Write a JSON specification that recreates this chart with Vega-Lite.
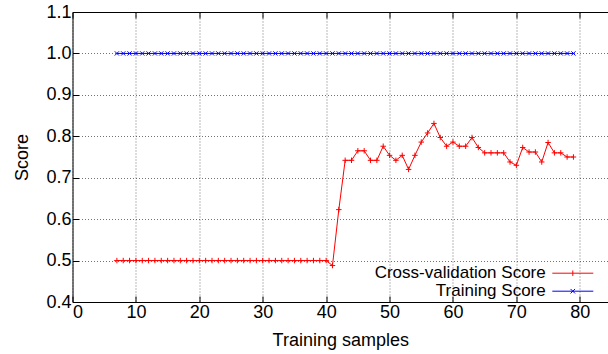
{
  "$schema": "https://vega.github.io/schema/vega-lite/v6.json",
  "width": 535.5,
  "height": 290,
  "autosize": {"type": "none"},
  "padding": {"left": 72.5, "top": 12, "right": 0, "bottom": 52},
  "config": {
    "font": "Liberation Sans",
    "view": {"stroke": null},
    "axis": {
      "labelFont": "Liberation Sans",
      "labelFontSize": 18,
      "labelColor": "#000",
      "titleFont": "Liberation Sans",
      "titleFontSize": 18,
      "titleFontWeight": "normal",
      "titleColor": "#000",
      "domainColor": "#000",
      "domainWidth": 1,
      "tickColor": "#000",
      "tickWidth": 1,
      "tickSize": -6,
      "gridColor": "#000",
      "gridDash": [1, 2],
      "gridOpacity": 0.55,
      "gridWidth": 1
    }
  },
  "datasets": {
    "scores": [
      {"n": 7, "series": "Cross-validation Score", "score": 0.5},
      {"n": 8, "series": "Cross-validation Score", "score": 0.5},
      {"n": 9, "series": "Cross-validation Score", "score": 0.5},
      {"n": 10, "series": "Cross-validation Score", "score": 0.5},
      {"n": 11, "series": "Cross-validation Score", "score": 0.5},
      {"n": 12, "series": "Cross-validation Score", "score": 0.5},
      {"n": 13, "series": "Cross-validation Score", "score": 0.5},
      {"n": 14, "series": "Cross-validation Score", "score": 0.5},
      {"n": 15, "series": "Cross-validation Score", "score": 0.5},
      {"n": 16, "series": "Cross-validation Score", "score": 0.5},
      {"n": 17, "series": "Cross-validation Score", "score": 0.5},
      {"n": 18, "series": "Cross-validation Score", "score": 0.5},
      {"n": 19, "series": "Cross-validation Score", "score": 0.5},
      {"n": 20, "series": "Cross-validation Score", "score": 0.5},
      {"n": 21, "series": "Cross-validation Score", "score": 0.5},
      {"n": 22, "series": "Cross-validation Score", "score": 0.5},
      {"n": 23, "series": "Cross-validation Score", "score": 0.5},
      {"n": 24, "series": "Cross-validation Score", "score": 0.5},
      {"n": 25, "series": "Cross-validation Score", "score": 0.5},
      {"n": 26, "series": "Cross-validation Score", "score": 0.5},
      {"n": 27, "series": "Cross-validation Score", "score": 0.5},
      {"n": 28, "series": "Cross-validation Score", "score": 0.5},
      {"n": 29, "series": "Cross-validation Score", "score": 0.5},
      {"n": 30, "series": "Cross-validation Score", "score": 0.5},
      {"n": 31, "series": "Cross-validation Score", "score": 0.5},
      {"n": 32, "series": "Cross-validation Score", "score": 0.5},
      {"n": 33, "series": "Cross-validation Score", "score": 0.5},
      {"n": 34, "series": "Cross-validation Score", "score": 0.5},
      {"n": 35, "series": "Cross-validation Score", "score": 0.5},
      {"n": 36, "series": "Cross-validation Score", "score": 0.5},
      {"n": 37, "series": "Cross-validation Score", "score": 0.5},
      {"n": 38, "series": "Cross-validation Score", "score": 0.5},
      {"n": 39, "series": "Cross-validation Score", "score": 0.5},
      {"n": 40, "series": "Cross-validation Score", "score": 0.5},
      {"n": 41, "series": "Cross-validation Score", "score": 0.488},
      {"n": 42, "series": "Cross-validation Score", "score": 0.623},
      {"n": 43, "series": "Cross-validation Score", "score": 0.742},
      {"n": 44, "series": "Cross-validation Score", "score": 0.742},
      {"n": 45, "series": "Cross-validation Score", "score": 0.765},
      {"n": 46, "series": "Cross-validation Score", "score": 0.765},
      {"n": 47, "series": "Cross-validation Score", "score": 0.742},
      {"n": 48, "series": "Cross-validation Score", "score": 0.742},
      {"n": 49, "series": "Cross-validation Score", "score": 0.776},
      {"n": 50, "series": "Cross-validation Score", "score": 0.754},
      {"n": 51, "series": "Cross-validation Score", "score": 0.742},
      {"n": 52, "series": "Cross-validation Score", "score": 0.754},
      {"n": 53, "series": "Cross-validation Score", "score": 0.72},
      {"n": 54, "series": "Cross-validation Score", "score": 0.754},
      {"n": 55, "series": "Cross-validation Score", "score": 0.786},
      {"n": 56, "series": "Cross-validation Score", "score": 0.808},
      {"n": 57, "series": "Cross-validation Score", "score": 0.831},
      {"n": 58, "series": "Cross-validation Score", "score": 0.797},
      {"n": 59, "series": "Cross-validation Score", "score": 0.776},
      {"n": 60, "series": "Cross-validation Score", "score": 0.786},
      {"n": 61, "series": "Cross-validation Score", "score": 0.776},
      {"n": 62, "series": "Cross-validation Score", "score": 0.776},
      {"n": 63, "series": "Cross-validation Score", "score": 0.797},
      {"n": 64, "series": "Cross-validation Score", "score": 0.773},
      {"n": 65, "series": "Cross-validation Score", "score": 0.76},
      {"n": 66, "series": "Cross-validation Score", "score": 0.76},
      {"n": 67, "series": "Cross-validation Score", "score": 0.76},
      {"n": 68, "series": "Cross-validation Score", "score": 0.76},
      {"n": 69, "series": "Cross-validation Score", "score": 0.738},
      {"n": 70, "series": "Cross-validation Score", "score": 0.73},
      {"n": 71, "series": "Cross-validation Score", "score": 0.773},
      {"n": 72, "series": "Cross-validation Score", "score": 0.762},
      {"n": 73, "series": "Cross-validation Score", "score": 0.762},
      {"n": 74, "series": "Cross-validation Score", "score": 0.738},
      {"n": 75, "series": "Cross-validation Score", "score": 0.785},
      {"n": 76, "series": "Cross-validation Score", "score": 0.76},
      {"n": 77, "series": "Cross-validation Score", "score": 0.76},
      {"n": 78, "series": "Cross-validation Score", "score": 0.75},
      {"n": 79, "series": "Cross-validation Score", "score": 0.75},
      {"n": 7, "series": "Training Score", "score": 1.0},
      {"n": 8, "series": "Training Score", "score": 1.0},
      {"n": 9, "series": "Training Score", "score": 1.0},
      {"n": 10, "series": "Training Score", "score": 1.0},
      {"n": 11, "series": "Training Score", "score": 1.0},
      {"n": 12, "series": "Training Score", "score": 1.0},
      {"n": 13, "series": "Training Score", "score": 1.0},
      {"n": 14, "series": "Training Score", "score": 1.0},
      {"n": 15, "series": "Training Score", "score": 1.0},
      {"n": 16, "series": "Training Score", "score": 1.0},
      {"n": 17, "series": "Training Score", "score": 1.0},
      {"n": 18, "series": "Training Score", "score": 1.0},
      {"n": 19, "series": "Training Score", "score": 1.0},
      {"n": 20, "series": "Training Score", "score": 1.0},
      {"n": 21, "series": "Training Score", "score": 1.0},
      {"n": 22, "series": "Training Score", "score": 1.0},
      {"n": 23, "series": "Training Score", "score": 1.0},
      {"n": 24, "series": "Training Score", "score": 1.0},
      {"n": 25, "series": "Training Score", "score": 1.0},
      {"n": 26, "series": "Training Score", "score": 1.0},
      {"n": 27, "series": "Training Score", "score": 1.0},
      {"n": 28, "series": "Training Score", "score": 1.0},
      {"n": 29, "series": "Training Score", "score": 1.0},
      {"n": 30, "series": "Training Score", "score": 1.0},
      {"n": 31, "series": "Training Score", "score": 1.0},
      {"n": 32, "series": "Training Score", "score": 1.0},
      {"n": 33, "series": "Training Score", "score": 1.0},
      {"n": 34, "series": "Training Score", "score": 1.0},
      {"n": 35, "series": "Training Score", "score": 1.0},
      {"n": 36, "series": "Training Score", "score": 1.0},
      {"n": 37, "series": "Training Score", "score": 1.0},
      {"n": 38, "series": "Training Score", "score": 1.0},
      {"n": 39, "series": "Training Score", "score": 1.0},
      {"n": 40, "series": "Training Score", "score": 1.0},
      {"n": 41, "series": "Training Score", "score": 1.0},
      {"n": 42, "series": "Training Score", "score": 1.0},
      {"n": 43, "series": "Training Score", "score": 1.0},
      {"n": 44, "series": "Training Score", "score": 1.0},
      {"n": 45, "series": "Training Score", "score": 1.0},
      {"n": 46, "series": "Training Score", "score": 1.0},
      {"n": 47, "series": "Training Score", "score": 1.0},
      {"n": 48, "series": "Training Score", "score": 1.0},
      {"n": 49, "series": "Training Score", "score": 1.0},
      {"n": 50, "series": "Training Score", "score": 1.0},
      {"n": 51, "series": "Training Score", "score": 1.0},
      {"n": 52, "series": "Training Score", "score": 1.0},
      {"n": 53, "series": "Training Score", "score": 1.0},
      {"n": 54, "series": "Training Score", "score": 1.0},
      {"n": 55, "series": "Training Score", "score": 1.0},
      {"n": 56, "series": "Training Score", "score": 1.0},
      {"n": 57, "series": "Training Score", "score": 1.0},
      {"n": 58, "series": "Training Score", "score": 1.0},
      {"n": 59, "series": "Training Score", "score": 1.0},
      {"n": 60, "series": "Training Score", "score": 1.0},
      {"n": 61, "series": "Training Score", "score": 1.0},
      {"n": 62, "series": "Training Score", "score": 1.0},
      {"n": 63, "series": "Training Score", "score": 1.0},
      {"n": 64, "series": "Training Score", "score": 1.0},
      {"n": 65, "series": "Training Score", "score": 1.0},
      {"n": 66, "series": "Training Score", "score": 1.0},
      {"n": 67, "series": "Training Score", "score": 1.0},
      {"n": 68, "series": "Training Score", "score": 1.0},
      {"n": 69, "series": "Training Score", "score": 1.0},
      {"n": 70, "series": "Training Score", "score": 1.0},
      {"n": 71, "series": "Training Score", "score": 1.0},
      {"n": 72, "series": "Training Score", "score": 1.0},
      {"n": 73, "series": "Training Score", "score": 1.0},
      {"n": 74, "series": "Training Score", "score": 1.0},
      {"n": 75, "series": "Training Score", "score": 1.0},
      {"n": 76, "series": "Training Score", "score": 1.0},
      {"n": 77, "series": "Training Score", "score": 1.0},
      {"n": 78, "series": "Training Score", "score": 1.0},
      {"n": 79, "series": "Training Score", "score": 1.0}
    ]
  },
  "data": {"name": "scores"},
  "layer": [
    {
      "mark": {"type": "line", "strokeWidth": 1, "interpolate": "linear"},
      "encoding": {
        "x": {
          "field": "n",
          "type": "quantitative",
          "scale": {"domain": [0, 84.45], "nice": false, "zero": false},
          "axis": {
            "values": [0, 10, 20, 30, 40, 50, 60, 70, 80],
            "format": "d",
            "title": "Training samples",
            "grid": true,
            "labelPadding": 7.5,
            "titlePadding": 10
          }
        },
        "y": {
          "field": "score",
          "type": "quantitative",
          "scale": {"domain": [0.4, 1.1], "nice": false, "zero": false},
          "axis": {
            "values": [0.4, 0.5, 0.6, 0.7, 0.8, 0.9, 1.0, 1.1],
            "format": ".1f",
            "title": "Score",
            "grid": true,
            "labelPadding": 7.5,
            "titlePadding": 14
          }
        },
        "color": {
          "field": "series",
          "type": "nominal",
          "scale": {"domain": ["Cross-validation Score", "Training Score"], "range": ["#ff0000", "#0000ff"]},
          "legend": {
            "title": null,
            "orient": "none",
            "legendX": 491.8,
            "legendY": 252.7,
            "padding": 0,
            "labelFont": "Liberation Sans",
            "labelFontSize": 17,
            "labelColor": "#000",
            "labelAlign": "right",
            "labelOffset": -35.6,
            "labelLimit": 0,
            "symbolType": "M-4.1,0H4.1",
            "symbolSize": 100,
            "symbolStrokeWidth": 1,
            "rowPadding": 0,
            "encode": {
              "symbols": {
                "update": {
                  "shape": {"signal": "datum.value === 'Training Score' ? 'M-4.1,0H4.1M-0.45,-0.45L0.45,0.45M-0.45,0.45L0.45,-0.45' : 'M-4.1,0H4.1M0,-0.55V0.55'"}
                }
              }
            }
          }
        }
      }
    },
    {
      "transform": [{"filter": "datum.series === 'Cross-validation Score'"}],
      "mark": {"type": "point", "shape": "M-1,0H1M0,-1V1", "size": 30, "filled": false, "color": "#ff0000", "strokeWidth": 1, "opacity": 1},
      "encoding": {
        "x": {"field": "n", "type": "quantitative", "axis": null},
        "y": {"field": "score", "type": "quantitative"}
      }
    },
    {
      "transform": [{"filter": "datum.series === 'Training Score'"}],
      "mark": {"type": "point", "shape": "M-1,-1L1,1M-1,1L1,-1", "size": 18, "filled": false, "color": "#0000ff", "strokeWidth": 1, "opacity": 1},
      "encoding": {
        "x": {
          "field": "n",
          "type": "quantitative",
          "axis": {"orient": "top", "labels": false, "grid": false, "title": null, "domain": true, "values": [0, 10, 20, 30, 40, 50, 60, 70, 80]}
        },
        "y": {"field": "score", "type": "quantitative"}
      }
    }
  ],
  "resolve": {"axis": {"x": "independent"}}
}
